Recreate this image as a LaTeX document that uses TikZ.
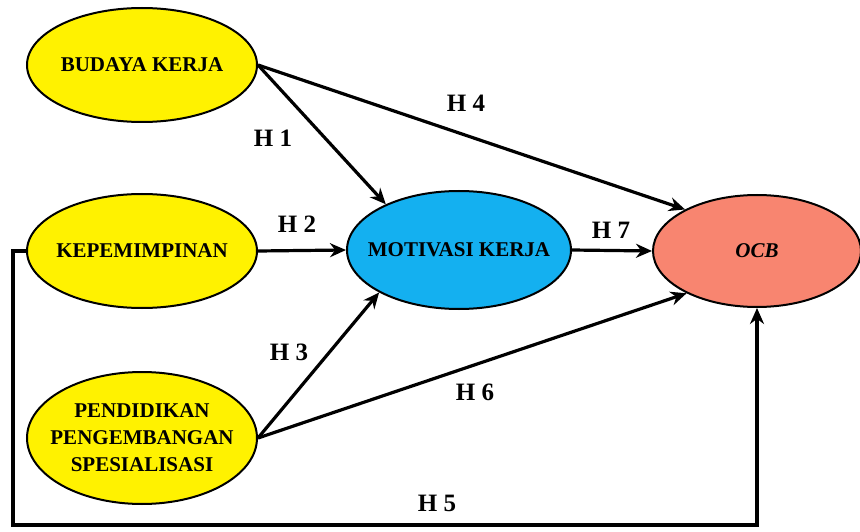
\documentclass[tikz,border=0pt]{standalone}
\usepackage{fontspec}
\setmainfont{Liberation Serif}
\usetikzlibrary{shapes.geometric, arrows.meta}

\begin{document}
\begin{tikzpicture}[x=1pt, y=-1pt,
    var/.style={ellipse, draw=black, line width=2pt, inner sep=0pt,
        minimum width=230pt, minimum height=114pt},
    vtext/.style={align=center, font=\fontsize{21}{27}\selectfont\bfseries},
    arr/.style={line width=3.2pt, -{Stealth[length=16pt, width=14pt]}},
    hlab/.style={font=\fontsize{25}{27}\selectfont\bfseries}]
    \useasboundingbox (0,0) rectangle (860,532);

    % variables
    \node[var, fill=yellow] (bud) at (142,65) {};
    \node[vtext] (budtxt) at (bud) {BUDAYA KERJA};
    \node[var, fill=yellow] (kep) at (142,251) {};
    \node[vtext] (keptxt) at (kep) {KEPEMIMPINAN};
    \node[var, fill=yellow, minimum height=132pt] (pen) at (142,438) {};
    \node[vtext] (pentxt) at (pen) {PENDIDIKAN\\PENGEMBANGAN\\SPESIALISASI};
    \node[var, fill={rgb,255:red,20;green,176;blue,240}, minimum width=224pt,
        minimum height=118pt] (mot) at (459,250) {};
    \node[vtext] (mottxt) at (mot) {MOTIVASI KERJA};
    \node[var, fill={rgb,255:red,248;green,133;blue,112}, minimum width=208pt,
        minimum height=112pt] (ocb) at (757,251) {};
    \node[vtext] (ocbtxt) at (ocb) {\itshape OCB};

    % paths
    \draw[arr] (bud.east) -- (mot.148);
    \draw[arr] (bud.east) -- (ocb.150);
    \draw[arr] (kep.east) -- (mot.west);
    \draw[arr] (pen.east) -- (mot.208);
    \draw[arr] (pen.east) -- (ocb.211);
    \draw[arr] (mot.east) -- (ocb.west);
    \coordinate (fb) at (13,525);
    \draw[arr] (kep.west) -| (fb) -| (ocb.south);

    % hypotheses
    \node[hlab] (h1) at (273,138) {H 1};
    \node[hlab] (h2) at (297,224) {H 2};
    \node[hlab] (h3) at (289,352) {H 3};
    \node[hlab] (h4) at (466,103) {H 4};
    \node[hlab] (h5) at (437,503) {H 5};
    \node[hlab] (h6) at (475,392) {H 6};
    \node[hlab] (h7) at (611,230) {H 7};
\end{tikzpicture}
\end{document}
